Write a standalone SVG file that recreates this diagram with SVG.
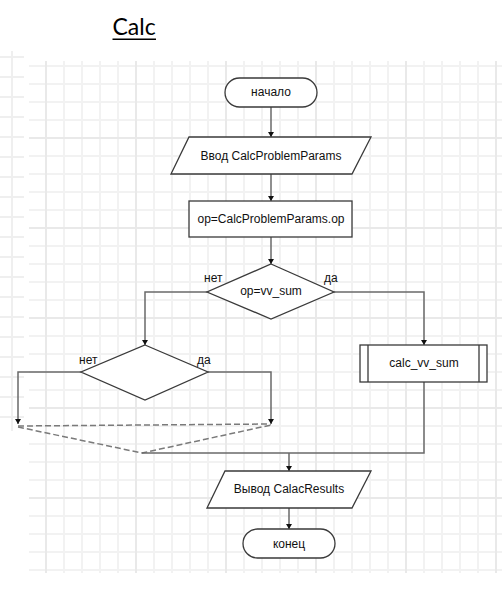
<svg xmlns="http://www.w3.org/2000/svg" width="502" height="616" viewBox="0 0 502 616">
<style>
.shape{fill:#fff;stroke:#3a3a3a;stroke-width:1.3}
.conn{fill:none;stroke:#6a6a6a;stroke-width:1.5}
.dash{fill:none;stroke:#7a7a7a;stroke-width:1.5;stroke-dasharray:6 3}
.t{font-family:"Liberation Sans",Arial,sans-serif;font-size:12px;fill:#111;text-anchor:middle}
.lbl{font-family:"Liberation Sans",Arial,sans-serif;font-size:12px;fill:#111}
</style>
<defs>
<pattern id="minor" x="45" y="65" width="18" height="18" patternUnits="userSpaceOnUse">
<rect x="0" y="0" width="18" height="2" fill="#f2f2f2"/>
<rect x="0" y="0" width="2" height="18" fill="#f2f2f2"/>
</pattern>
<pattern id="major" x="135" y="137" width="90" height="90" patternUnits="userSpaceOnUse">
<rect x="0" y="0" width="90" height="2" fill="#e9e9e9"/>
<rect x="0" y="0" width="2" height="90" fill="#e9e9e9"/>
</pattern>
<pattern id="strip" x="0" y="56" width="24" height="20" patternUnits="userSpaceOnUse">
<rect x="0" y="0" width="24" height="2" fill="#efefef"/>
</pattern>
<marker id="arr" markerWidth="5" markerHeight="6" refX="5" refY="3" orient="auto" markerUnits="userSpaceOnUse">
<path d="M0,0 L5,3 L0,6 z" fill="#111"/>
</marker>
</defs>
<rect width="502" height="616" fill="#fff"/>
<g id="grid">
<rect x="29" y="61" width="473" height="512" fill="url(#minor)"/>
<rect x="29" y="61" width="473" height="512" fill="url(#major)"/>
<rect x="0" y="51" width="24" height="380" fill="url(#strip)"/>
<rect x="11" y="51" width="2" height="380" fill="#efefef"/>
</g>
<g id="title">
<text x="112.5" y="35" font-family="Lato,'Open Sans',sans-serif" font-size="23" fill="#000">Calc</text>
<rect x="112.5" y="38.5" width="43.5" height="1.5" fill="#000"/>
</g>
<g id="connectors">
<path class="conn" d="M271,107 V137" marker-end="url(#arr)"/>
<path class="conn" d="M271,174 V201" marker-end="url(#arr)"/>
<path class="conn" d="M271,237 V264" marker-end="url(#arr)"/>
<path class="conn" d="M207,292 H145 V345" marker-end="url(#arr)"/>
<path class="conn" d="M334,292 H424 V345" marker-end="url(#arr)"/>
<path class="conn" d="M81,372 H18 V424" marker-end="url(#arr)"/>
<path class="conn" d="M208,372 H271 V424" marker-end="url(#arr)"/>
<path class="dash" d="M18,426 L271,424"/>
<path class="dash" d="M18,427 L142,453 L271,425"/>
<path class="conn" d="M142,453 H424 V382"/>
<path class="conn" d="M289,453 V471" marker-end="url(#arr)"/>
<path class="conn" d="M289,508 V529" marker-end="url(#arr)"/>
</g>
<g id="start">
<rect class="shape" x="225" y="78" width="92" height="29" rx="14.5"/>
<text class="t" x="271" y="96">начало</text>
</g>
<g id="input">
<polygon class="shape" points="189,137 371,137 352,174 171,174"/>
<text class="t" x="271" y="160">Ввод CalcProblemParams</text>
</g>
<g id="assign">
<rect class="shape" x="189" y="201" width="163" height="36"/>
<text class="t" x="271" y="223">op=CalcProblemParams.op</text>
</g>
<g id="cond1">
<polygon class="shape" points="271,264 334,292 271,319 207,292"/>
<text class="t" x="271" y="295">op=vv_sum</text>
<text class="lbl" x="204" y="282">нет</text>
<text class="lbl" x="324" y="282">да</text>
</g>
<g id="cond2">
<polygon class="shape" points="145,345 208,372 145,400 81,372"/>
<text class="lbl" x="79" y="364">нет</text>
<text class="lbl" x="197" y="364">да</text>
</g>
<g id="calc">
<rect class="shape" x="360" y="345" width="127" height="37"/>
<path class="shape" d="M368,345 V382 M479,345 V382"/>
<text class="t" x="424" y="367">calc_vv_sum</text>
</g>
<g id="output">
<polygon class="shape" points="225,471 371,471 352,508 207,508"/>
<text class="t" x="289" y="493">Вывод CalacResults</text>
</g>
<g id="end">
<rect class="shape" x="243" y="529" width="92" height="29" rx="14.5"/>
<text class="t" x="289" y="548">конец</text>
</g>
</svg>
